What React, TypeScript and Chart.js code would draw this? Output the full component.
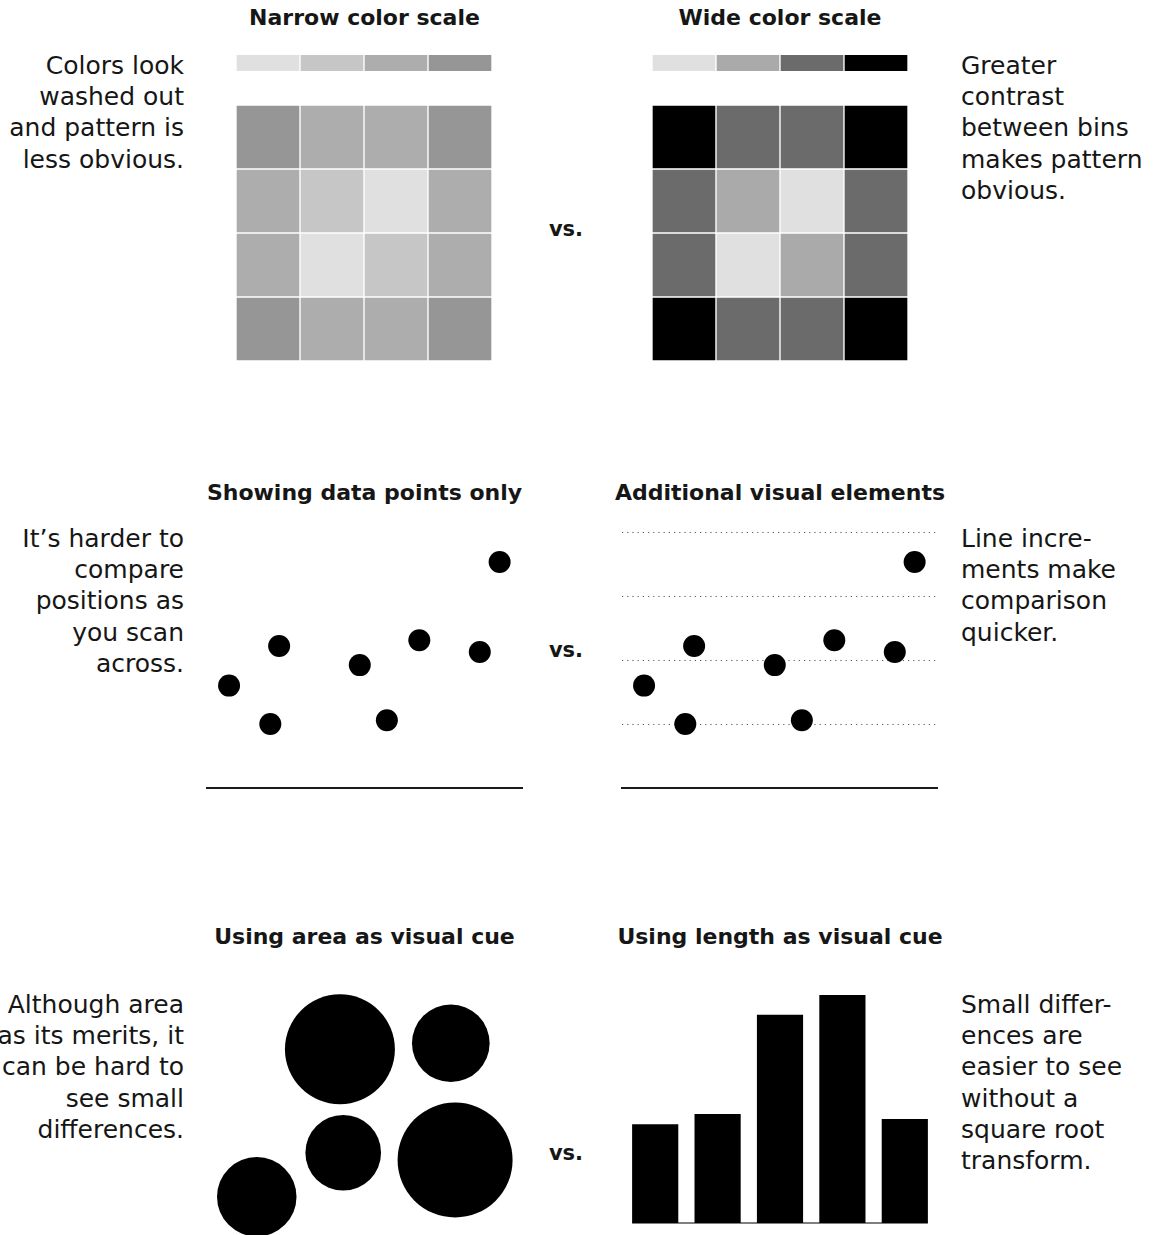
import React, { useEffect, useRef } from "react";
import { Chart, registerables } from "chart.js";

Chart.register(...registerables);

const FONT = "'DejaVu Sans', sans-serif";
const TEXT_COLOR = "#161616";

// ---------- Heatmaps ----------
const HEAT_COLUMNS = ["c1", "c2", "c3", "c4"];
// levels 0 (lightest) .. 3 (darkest), top row first
const HEAT_LEVELS = [
  [3, 2, 2, 3],
  [2, 1, 0, 2],
  [2, 0, 1, 2],
  [3, 2, 2, 3],
];
const SCALE_LEVELS = [0, 1, 2, 3];
const NARROW_COLORS = ["#e0e0e0", "#c6c6c6", "#adadad", "#969696"];
const WIDE_COLORS = ["#e0e0e0", "#aaaaaa", "#6b6b6b", "#000000"];
const LEGEND_GAP = 0.53125;
const LEGEND_HEIGHT = 0.25;

// ---------- Scatter ----------
const SCATTER_X = [7, 20.1, 22.9, 48.5, 57.1, 67.4, 86.6, 92.9];
const SCATTER_Y = [1.6, 1.0, 2.22, 1.92, 1.06, 2.31, 2.125, 3.53];
const SCATTER_Y_MAX = 4.1875;

// ---------- Area vs length ----------
const BAR_LABELS = ["A", "B", "C", "D", "E"];
const BAR_VALUES = [43.3, 47.8, 91.4, 100, 45.6];
const BUBBLE_X = [43.4, 17.2, 42.4, 77.3, 76];
const BUBBLE_Y = [32.9, 15.3, 74.3, 30, 76.7];
const BUBBLE_MAX_R = 57.5;

// ---------- Text ----------
const LEFT_NOTES = [
  ["Colors look", "washed out", "and pattern is", "less obvious."],
  ["It’s harder to", "compare", "positions as", "you scan", "across."],
  ["Although area", "has its merits, it", "can be hard to", "see small", "differences."],
];
const RIGHT_NOTES = [
  ["Greater", "contrast", "between bins", "makes pattern", "obvious."],
  ["Line incre-", "ments make", "comparison", "quicker."],
  ["Small differ-", "ences are", "easier to see", "without a", "square root", "transform."],
];
const LEFT_TITLES = ["Narrow color scale", "Showing data points only", "Using area as visual cue"];
const RIGHT_TITLES = ["Wide color scale", "Additional visual elements", "Using length as visual cue"];

const baseOptions = {
  animation: false,
  responsive: false,
  events: [],
  plugins: { legend: { display: false }, tooltip: { enabled: false } },
};

function heatConfig(colors: string[]) {
  const rowsBottomUp = [...HEAT_LEVELS].reverse();
  const datasets: any[] = rowsBottomUp.map((row) => ({
    data: row.map(() => 1),
    backgroundColor: row.map((l) => colors[l]),
    borderColor: "#ffffff",
    borderWidth: 1,
    borderSkipped: false,
  }));
  datasets.push({
    data: HEAT_COLUMNS.map(() => LEGEND_GAP),
    backgroundColor: "rgba(0,0,0,0)",
    borderWidth: 0,
  });
  datasets.push({
    data: SCALE_LEVELS.map(() => LEGEND_HEIGHT),
    backgroundColor: SCALE_LEVELS.map((l) => colors[l]),
    borderColor: "#ffffff",
    borderWidth: { left: 1, right: 1, top: 0, bottom: 0 },
    borderSkipped: false,
  });
  return {
    type: "bar",
    data: { labels: HEAT_COLUMNS, datasets },
    options: {
      ...baseOptions,
      layout: { padding: 0, autoPadding: false },
      datasets: { bar: { categoryPercentage: 1, barPercentage: 1 } },
      scales: {
        x: { display: false, stacked: true },
        y: { display: false, stacked: true, min: 0, max: HEAT_LEVELS.length + LEGEND_GAP + LEGEND_HEIGHT },
      },
    },
  };
}

function scatterConfig(withGuides: boolean) {
  return {
    type: "scatter",
    data: {
      datasets: [
        {
          data: SCATTER_X.map((x, i) => ({ x, y: SCATTER_Y[i] })),
          backgroundColor: "#000000",
          borderWidth: 0,
          pointRadius: 11,
          clip: false,
        },
      ],
    },
    options: {
      ...baseOptions,
      layout: { padding: { left: 10, right: 10, top: 10, bottom: 12 }, autoPadding: false },
      scales: {
        x: {
          min: 0,
          max: 100,
          ticks: { display: false },
          grid: { display: false, drawTicks: false },
          border: { display: true, color: "#1a1a1a", width: 2 },
        },
        y: {
          display: withGuides,
          min: 0,
          max: SCATTER_Y_MAX,
          ticks: { display: false, stepSize: 1, includeBounds: false },
          grid: { display: true, drawTicks: false, color: "#5a5a5a", lineWidth: 1 },
          border: { display: false, dash: [1.2, 4] },
        },
      },
    },
  };
}

const baselinePlugin = {
  id: "baseline",
  beforeDatasetsDraw(chart: any) {
    const meta = chart.getDatasetMeta(0);
    const first = meta.data[0];
    const last = meta.data[meta.data.length - 1];
    const y = chart.scales.y.getPixelForValue(0);
    const ctx = chart.ctx;
    ctx.save();
    ctx.strokeStyle = "#555555";
    ctx.lineWidth = 1.5;
    ctx.beginPath();
    ctx.moveTo(first.x - first.width / 2, y);
    ctx.lineTo(last.x + last.width / 2, y);
    ctx.stroke();
    ctx.restore();
  },
};

function barConfig() {
  return {
    type: "bar",
    data: {
      labels: BAR_LABELS,
      datasets: [
        {
          data: BAR_VALUES,
          backgroundColor: "#000000",
          borderWidth: 0,
          categoryPercentage: 1,
          barPercentage: 0.74,
        },
      ],
    },
    options: {
      ...baseOptions,
      layout: { padding: { bottom: 2 }, autoPadding: false },
      scales: {
        x: { display: false },
        y: { display: false, min: 0, max: 104.4 },
      },
    },
    plugins: [baselinePlugin],
  };
}

function bubbleConfig() {
  const maxVal = Math.max(...BAR_VALUES);
  return {
    type: "bubble",
    data: {
      datasets: [
        {
          data: BUBBLE_X.map((x, i) => ({
            x,
            y: BUBBLE_Y[i],
            r: BUBBLE_MAX_R * Math.sqrt(BAR_VALUES[i] / maxVal),
          })),
          backgroundColor: "#000000",
          borderWidth: 0,
          hoverRadius: 0,
          clip: false,
        },
      ],
    },
    options: {
      ...baseOptions,
      layout: { padding: 0, autoPadding: false },
      scales: {
        x: { display: false, min: 0, max: 100 },
        y: { display: false, min: 0, max: 100 },
      },
    },
  };
}

function ChartCanvas(props: { left: number; top: number; width: number; height: number; make: () => any }) {
  const { left, top, width, height, make } = props;
  const ref = useRef<HTMLCanvasElement>(null);
  useEffect(() => {
    const chart = new Chart(ref.current as HTMLCanvasElement, make());
    return () => chart.destroy();
  }, []);
  return (
    <canvas
      ref={ref}
      width={width}
      height={height}
      style={{ position: "absolute", left, top, width, height }}
    />
  );
}

const noteStyle: React.CSSProperties = {
  position: "absolute",
  fontFamily: FONT,
  fontSize: 25,
  lineHeight: "31.2px",
  color: TEXT_COLOR,
  whiteSpace: "nowrap",
};

const titleStyle: React.CSSProperties = {
  position: "absolute",
  fontFamily: FONT,
  fontSize: 22,
  fontWeight: "bold",
  lineHeight: "26px",
  color: TEXT_COLOR,
  whiteSpace: "nowrap",
  textAlign: "center",
  width: 500,
};

const ROW_NOTE_TOPS = [50, 523, 989];
const ROW_TITLE_TOPS = [5.4, 480.4, 924.4];
const VS_TOPS = [216, 637, 1140];

export default function App() {
  return (
    <div
      style={{
        position: "absolute",
        left: 0,
        top: 0,
        width: 1164,
        height: 1235,
        overflow: "hidden",
        background: "#ffffff",
      }}
    >
      {LEFT_TITLES.map((t, i) => (
        <div key={"lt" + i} style={{ ...titleStyle, left: 364.5 - 250, top: ROW_TITLE_TOPS[i] }}>
          {t}
        </div>
      ))}
      {RIGHT_TITLES.map((t, i) => (
        <div key={"rt" + i} style={{ ...titleStyle, left: 780 - 250, top: ROW_TITLE_TOPS[i] }}>
          {t}
        </div>
      ))}
      {LEFT_NOTES.map((lines, i) => (
        <div key={"ln" + i} style={{ ...noteStyle, right: 1164 - 184, top: ROW_NOTE_TOPS[i], textAlign: "right" }}>
          {lines.map((l, j) => (
            <div key={j}>{l}</div>
          ))}
        </div>
      ))}
      {RIGHT_NOTES.map((lines, i) => (
        <div key={"rn" + i} style={{ ...noteStyle, left: 961, top: ROW_NOTE_TOPS[i], textAlign: "left" }}>
          {lines.map((l, j) => (
            <div key={j}>{l}</div>
          ))}
        </div>
      ))}
      {VS_TOPS.map((t, i) => (
        <div
          key={"vs" + i}
          style={{
            position: "absolute",
            left: 566 - 50,
            width: 100,
            top: t,
            textAlign: "center",
            fontFamily: FONT,
            fontWeight: "bold",
            fontSize: 21,
            lineHeight: "26px",
            color: TEXT_COLOR,
          }}
        >
          vs.
        </div>
      ))}

      <ChartCanvas left={236} top={55} width={256} height={306} make={() => heatConfig(NARROW_COLORS)} />
      <ChartCanvas left={652} top={55} width={256} height={306} make={() => heatConfig(WIDE_COLORS)} />

      <ChartCanvas left={197} top={510} width={335} height={290} make={() => scatterConfig(false)} />
      <ChartCanvas left={612} top={510} width={335} height={290} make={() => scatterConfig(true)} />

      <ChartCanvas left={200} top={985} width={330} height={250} make={() => bubbleConfig()} />
      <ChartCanvas left={624} top={985} width={312} height={240} make={() => barConfig()} />
    </div>
  );
}
